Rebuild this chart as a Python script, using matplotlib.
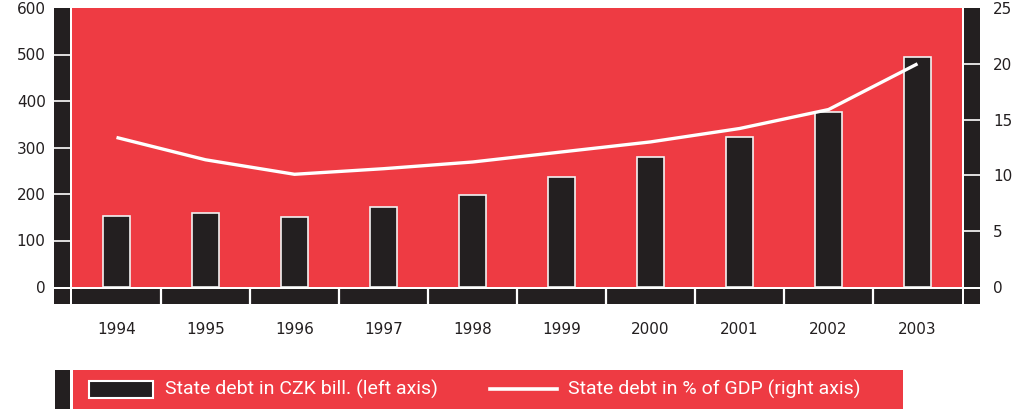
import matplotlib
matplotlib.use('Agg')
import matplotlib.pyplot as plt
from matplotlib.patches import Rectangle
from matplotlib.lines import Line2D
import numpy as np

years = ['1994', '1995', '1996', '1997', '1998', '1999', '2000', '2001', '2002', '2003']
debt_czk = [152, 159, 151, 173, 197, 237, 280, 322, 376, 495]
debt_gdp = [13.4, 11.4, 10.1, 10.6, 11.2, 12.1, 13.0, 14.2, 15.9, 20.0]
left_ticks = [0, 100, 200, 300, 400, 500, 600]
right_ticks = [0, 5, 10, 15, 20, 25]
legend_labels = ['State debt in CZK bill. (left axis)', 'State debt in % of GDP (right axis)']

RED = '#EE3B43'
DARK = '#231F20'
TXT = '#231F20'

W, H = 1017, 409
fig = plt.figure(figsize=(W / 100, H / 100), dpi=100)
fig.patch.set_facecolor('white')


def ax_px(x0, y0, x1, y1, fc=DARK):
    a = fig.add_axes([x0 / W, 1 - y1 / H, (x1 - x0) / W, (y1 - y0) / H])
    a.set_facecolor(fc)
    for s in a.spines.values():
        s.set_visible(False)
    a.set_xticks([])
    a.set_yticks([])
    return a


x = np.arange(len(years))

# main plot area
ax = ax_px(72, 8, 962, 287, RED)
ax.set_xlim(-0.5, len(years) - 0.5)
ax.set_ylim(0, 600)
ax.bar(x, debt_czk, width=0.31, color=DARK, edgecolor='#F2F2F2', linewidth=1.2, zorder=2)
ax2 = ax.twinx()
for s in ax2.spines.values():
    s.set_visible(False)
ax2.set_ylim(0, 25)
ax2.set_yticks([])
ax2.plot(x, debt_gdp, color='white', linewidth=2.4, solid_capstyle='butt', zorder=3)

# left strip
axl = ax_px(54, 8, 70, 287)
axl.set_ylim(0, 600)
axl.set_xlim(0, 1)
axl.set_yticks(left_ticks)
axl.set_yticklabels([str(t) for t in left_ticks])
for t in left_ticks[1:-1]:
    axl.axhline(t, color='white', linewidth=1.2)
axl.tick_params(axis='y', length=0, pad=6, labelsize=11, labelcolor=TXT)

# right strip
axr = ax_px(964, 8, 980, 287)
axr.set_ylim(0, 25)
axr.set_xlim(0, 1)
axr.yaxis.tick_right()
axr.set_yticks(right_ticks)
axr.set_yticklabels([str(t) for t in right_ticks])
for t in right_ticks[1:-1]:
    axr.axhline(t, color='white', linewidth=1.2)
axr.tick_params(axis='y', length=0, pad=9.5, labelsize=11, labelcolor=TXT)

# bottom strip
axb = ax_px(72, 289, 962, 304)
axb.set_xlim(-0.5, len(years) - 0.5)
axb.set_ylim(0, 1)
for b in np.arange(0.5, len(years) - 1, 1.0):
    axb.axvline(b, color='white', linewidth=1.6)
axb.set_xticks(x)
axb.set_xticklabels(years)
axb.tick_params(axis='x', length=0, pad=13, labelsize=11, labelcolor=TXT)

ax_px(54, 289, 70, 304)
ax_px(964, 289, 980, 304)

# legend
ax_px(55, 370, 70, 409)
axg = ax_px(73, 370, 903, 409, RED)
axg.set_xlim(73, 903)
axg.set_ylim(409, 370)
axg.add_patch(Rectangle((89, 381), 64, 17, facecolor=DARK, edgecolor='white', linewidth=1.5))
axg.add_line(Line2D([490, 557], [389, 389], color='white', linewidth=2.6))
fam = ['Roboto', 'DejaVu Sans']
axg.text(165, 389, legend_labels[0], color='white', fontsize=14, va='center', ha='left', family=fam)
axg.text(568, 389, legend_labels[1], color='white', fontsize=14, va='center', ha='left', family=fam)

fig.savefig('out.png', dpi=100)
